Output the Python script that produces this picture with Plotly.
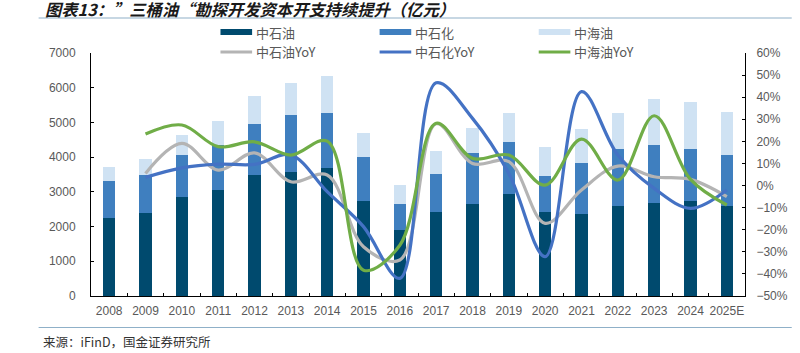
import plotly.graph_objects as go

years = ["2008", "2009", "2010", "2011", "2012", "2013", "2014", "2015", "2016",
         "2017", "2018", "2019", "2020", "2021", "2022", "2023", "2024", "2025E"]
cnpc = [2250, 2380, 2840, 3040, 3500, 3570, 3700, 2750, 1900,
        2410, 2650, 2940, 2430, 2370, 2590, 2680, 2750, 2600]
sinopec = [1060, 1120, 1210, 1310, 1450, 1650, 1570, 1260, 760,
           1110, 1460, 1510, 1040, 1450, 1650, 1660, 1490, 1470]
cnooc = [410, 460, 580, 690, 810, 930, 1080, 690, 530,
         660, 730, 820, 820, 990, 1020, 1330, 1350, 1240]

yoy_years = years[1:]
cnpc_yoy = [0.055, 0.191, 0.07, 0.148, 0.017, 0.048, -0.277, -0.337,
            0.28, 0.10, 0.108, -0.171, -0.02, 0.088, 0.04, 0.028, -0.05]
sinopec_yoy = [0.037, 0.08, 0.097, 0.096, 0.138, -0.028, -0.186, -0.42,
               0.465, 0.304, 0.055, -0.322, 0.425, 0.138, -0.013, -0.103, -0.02]
cnooc_yoy = [0.233, 0.274, 0.176, 0.198, 0.138, 0.201, -0.383, -0.27,
             0.282, 0.123, 0.138, 0.002, 0.21, 0.025, 0.316, 0.028, -0.088]

bar_names = ["中石油", "中石化", "中海油"]
line_names = ["中石油YoY", "中石化YoY", "中海油YoY"]
bar_colors = ["#004A6E", "#3F7FBF", "#CFE2F3"]
line_colors = ["#B4B4B4", "#4472C4", "#70AD47"]

fig = go.Figure()
for name, vals, col in zip(bar_names, [cnpc, sinopec, cnooc], bar_colors):
    fig.add_trace(go.Bar(x=years, y=vals, name=name, marker_color=col,
                         marker_line_width=0, showlegend=False))
for name, vals, col in zip(line_names, [cnpc_yoy, sinopec_yoy, cnooc_yoy], line_colors):
    fig.add_trace(go.Scatter(x=yoy_years, y=vals, name=name, yaxis="y2", mode="lines",
                             line=dict(color=col, width=3.2, shape="spline", smoothing=1.0),
                             showlegend=False))

W, H = 800, 353
L, R, T, B = 91, 752.7, 53, 296
pw, ph = R - L, B - T

def px(x):
    return (x - L) / pw

def py(y):
    return (B - y) / ph

shapes = []
annotations = []
# custom legend
leg_x = [222, 383, 544]
for i in range(3):
    shapes.append(dict(type="rect", xref="paper", yref="paper",
                       x0=px(leg_x[i]), x1=px(leg_x[i] + 32), y0=py(35), y1=py(29),
                       fillcolor=bar_colors[i], line_width=0))
    annotations.append(dict(text=bar_names[i], xref="paper", yref="paper",
                            x=px(leg_x[i] + 34), y=py(32), xanchor="left", yanchor="middle",
                            showarrow=False, font=dict(size=13, color="#595959",
                                                       family="Noto Sans CJK SC")))
    shapes.append(dict(type="line", xref="paper", yref="paper",
                       x0=px(leg_x[i]), x1=px(leg_x[i] + 32), y0=py(52), y1=py(52),
                       line=dict(color=line_colors[i], width=3)))
    annotations.append(dict(text=line_names[i], xref="paper", yref="paper",
                            x=px(leg_x[i] + 34), y=py(52), xanchor="left", yanchor="middle",
                            showarrow=False, font=dict(size=13, color="#595959",
                                                       family="Noto Sans CJK SC")))
# title and separator lines
shapes.append(dict(type="line", xref="paper", yref="paper",
                   x0=px(38), x1=px(800), y0=py(18), y1=py(18),
                   line=dict(color="#8FB0C8", width=1.2)))
shapes.append(dict(type="line", xref="paper", yref="paper",
                   x0=px(38), x1=px(800), y0=py(327.5), y1=py(327.5),
                   line=dict(color="#8FB0C8", width=1.2)))
annotations.append(dict(text="<b><i>图表13：”三桶油“勘探开发资本开支持续提升（亿元）</i></b>",
                        xref="paper", yref="paper", x=px(42), y=py(9),
                        xanchor="left", yanchor="middle", showarrow=False,
                        font=dict(size=16.3, color="#1a1a1a", family="Noto Sans CJK SC")))
annotations.append(dict(text="来源：iFinD，国金证券研究所",
                        xref="paper", yref="paper", x=px(40), y=py(341),
                        xanchor="left", yanchor="middle", showarrow=False,
                        font=dict(size=12.5, color="#333333", family="Noto Sans CJK SC")))

tick_font = dict(size=12, color="#595959", family="Liberation Sans, Arial")
fig.update_layout(
    width=W, height=H,
    margin=dict(l=L, r=W - R, t=T, b=H - B, pad=0),
    paper_bgcolor="white", plot_bgcolor="white",
    barmode="stack", bargap=0.655,
    showlegend=False,
    xaxis=dict(type="category", showline=True, linecolor="#000000", linewidth=1,
               ticks="inside", ticklen=3, tickcolor="#000000", tickson="boundaries",
               tickfont=tick_font, tickangle=0, showgrid=False, zeroline=False,
               ticklabelstandoff=4),
    yaxis=dict(range=[0, 7000], dtick=1000, showline=True, linecolor="#000000",
               linewidth=1, ticks="inside", ticklen=3, tickcolor="#000000",
               tickfont=tick_font, showgrid=False, zeroline=False, ticklabelstandoff=12),
    yaxis2=dict(range=[-0.5, 0.6], dtick=0.1, tickformat=".0%", overlaying="y",
                side="right", showline=True, linecolor="#000000", linewidth=1,
                ticks="inside", ticklen=3, tickcolor="#000000", tickfont=tick_font,
                showgrid=False, zeroline=False, ticklabelstandoff=8),
    shapes=shapes, annotations=annotations,
)
fig.write_html("out.html")
